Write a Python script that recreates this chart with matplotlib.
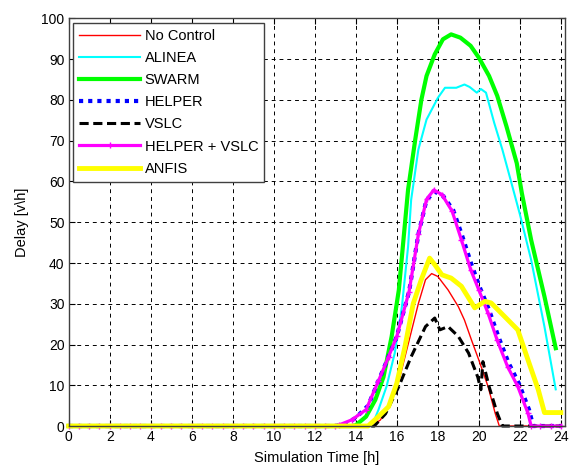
import matplotlib
matplotlib.use('Agg')
import matplotlib.pyplot as plt
import numpy as np

plt.rcParams['font.family'] = ['Liberation Sans', 'DejaVu Sans']

# values (time [h], delay [v h])
t_noctrl = [0, 14.8, 15.2, 15.6, 16.1, 16.6, 17.05, 17.4, 17.7, 18.0, 18.5, 19.0, 19.3, 19.65, 20.0, 20.45, 20.8, 21.0, 24.0]
v_noctrl = [0, 0, 1.5, 4.7, 11, 21, 30, 35.9, 37.4, 36.7, 33.4, 29.3, 26, 21, 16.2, 9.7, 3.1, 0, 0]

t_alinea = [0, 14.5, 14.8, 15.1, 15.5, 15.9, 16.25, 16.55, 16.7, 17.05, 17.45, 18.0, 18.35, 18.9, 19.3, 19.55,
            19.9, 20.1, 20.35, 20.75, 21.15, 21.55, 22.0, 22.55, 23.2, 23.75]
v_alinea = [0, 0, 0.2, 3.9, 9.7, 17.9, 29.3, 44, 55.5, 67.8, 75.2, 80.5, 83, 83, 83.8, 83.2,
            81.8, 82.7, 81.8, 74.4, 67.8, 60.4, 52, 40.8, 24.4, 9]

t_swarm = [0, 13.8, 14.0, 14.5, 14.95, 15.35, 15.75, 16.1, 16.55, 16.9, 17.2, 17.45, 17.85, 18.25, 18.65,
           19.1, 19.6, 20.0, 20.5, 20.9, 21.35, 21.85, 22.1, 22.55, 23.2, 23.75]
v_swarm = [0, 0, 0.2, 2.3, 6.4, 12, 22, 33.4, 58, 70.3, 80.1, 85.9, 91.2, 94.9, 96.1,
           95.3, 93.3, 90.4, 85.9, 81, 73.5, 64.5, 57.1, 45.7, 31.8, 19.1]

t_helper = [0, 13.0, 13.5, 14.0, 14.6, 15.1, 15.6, 16.0, 16.6, 17.05, 17.45, 17.85, 18.25, 18.75, 19.2,
            19.65, 20.05, 20.5, 20.95, 21.45, 21.95, 22.45, 22.65, 24]
v_helper = [0, 0, 0.5, 2, 5, 11, 17, 22, 33, 47, 55.5, 57.5, 56.5, 53, 46.5,
            39.5, 34, 28.5, 22, 15.5, 10.5, 4, 0, 0]

t_vslc = [0, 14.9, 15.45, 16.1, 16.7, 17.4, 17.85, 18.1, 18.5, 19.0, 19.5, 19.95, 20.1, 20.2, 20.5, 20.9, 21.15, 24]
v_vslc = [0, 0, 3, 9.7, 17, 24.4, 26.5, 23.6, 24.4, 22, 17.9, 12, 8.9, 15.8, 9.7, 3.1, 0, 0]

t_hv = [0, 0.5, 1, 1.5, 2, 2.5, 3, 3.5, 4, 4.5, 5, 5.5, 6, 6.5, 7, 7.5, 8, 8.5, 9, 9.5, 10, 10.5, 11, 11.5,
        12, 12.5, 13, 13.2, 13.8, 14.5, 15.1, 15.6, 16.0, 16.6, 17.05, 17.45, 17.8, 18.2, 18.7, 19.15,
        19.6, 20.0, 20.45, 20.9, 21.4, 21.9, 22.4, 22.55, 23.0, 23.5, 24.0]
v_hv = [0] * 27 + [0.3, 1.5, 4, 11, 17, 22, 33, 47, 55.6, 57.9, 56.8, 52.7, 45.7,
                   38.4, 33.4, 27.7, 21, 14.6, 9.7, 3.1, 0, 0, 0, 0]

t_anfis = [0, 14.6, 15.1, 15.6, 16.0, 16.4, 16.8, 17.2, 17.6, 17.85, 18.2, 18.65, 19.15, 19.8, 20.3, 20.6,
           21.25, 21.9, 22.4, 22.9, 23.2, 24.0]
v_anfis = [0, 0, 2.3, 4.75, 10.5, 19.5, 30, 36, 41.2, 39.6, 37.1, 36.3, 34.3, 29, 30.6, 30.2,
           26.9, 23.6, 16.2, 8.9, 3.3, 3.3]

fig = plt.figure(figsize=(5.75, 4.68), dpi=100)
ax = fig.add_axes([0.1195, 0.0897, 0.863, 0.8708])

ax.plot(t_noctrl, v_noctrl, color='#ff0000', lw=1.0, label='No Control', clip_on=False)
ax.plot(t_alinea, v_alinea, color='#00ffff', lw=1.5, label='ALINEA', clip_on=False)
ax.plot(t_swarm, v_swarm, color='#00ff00', lw=3.0, label='SWARM', clip_on=False)
ax.plot(t_helper, v_helper, color='#0000ff', lw=3.0, ls=(0, (1, 1.2)), label='HELPER', clip_on=False)
ax.plot(t_vslc, v_vslc, color='black', lw=2.2, ls=(0, (3, 1.5)), label='VSLC', clip_on=False)
ax.plot(t_hv, v_hv, color='#ff00ff', lw=2.3, marker='+', ms=5, mew=1, label='HELPER + VSLC', clip_on=False)
ax.plot(t_anfis, v_anfis, color='#ffff00', lw=3.5, label='ANFIS', clip_on=False)

ax.set_xlim(0, 24.2)
ax.set_ylim(0, 100)
ax.set_xticks(np.arange(0, 25, 2))
ax.set_yticks(np.arange(0, 101, 10))
ax.tick_params(direction='in', top=True, right=True, labelsize=10, length=4, pad=3)
ax.grid(True, color='black', ls=(0, (4, 4)), lw=0.7)
for s in ax.spines.values():
    s.set_color('#404040')
    s.set_linewidth(1.0)

ax.set_xlabel('Simulation Time [h]', fontsize=10.5, labelpad=5)
ax.set_ylabel('Delay [v\\h]', fontsize=10.5, labelpad=9)

leg = ax.legend(loc='upper left', fontsize=10.5, handlelength=4.2, frameon=True, fancybox=False,
                numpoints=1, borderaxespad=0.3, labelspacing=0.56, handletextpad=0.3, borderpad=0.4)
leg.get_frame().set_edgecolor('#404040')
leg.get_frame().set_linewidth(1.0)
leg.get_frame().set_alpha(1)

fig.savefig('out.png', dpi=100)
